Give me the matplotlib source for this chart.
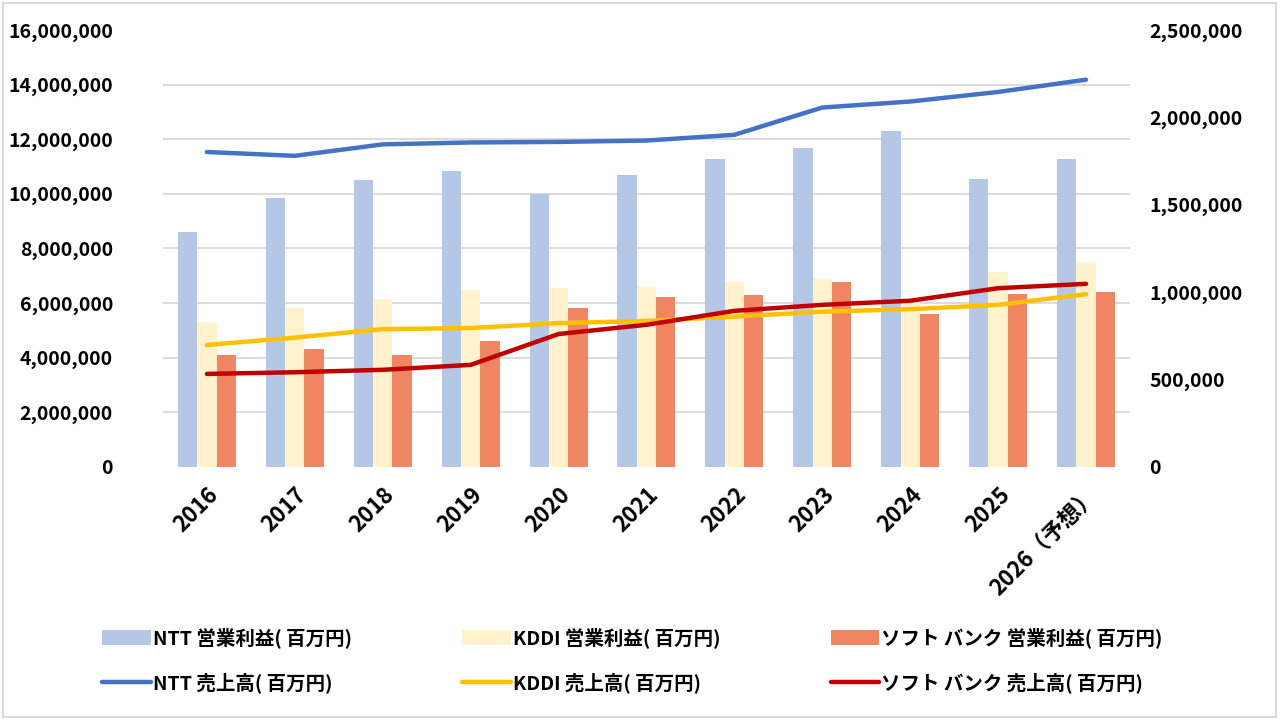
import matplotlib
matplotlib.use("Agg")
import matplotlib.pyplot as plt
import numpy as np
from matplotlib.ticker import FuncFormatter, MultipleLocator
from matplotlib.patches import Rectangle

plt.rcParams['font.family'] = ['Noto Sans CJK JP', 'DejaVu Sans']

# data (百万円)
years = ["2016", "2017", "2018", "2019", "2020", "2021", "2022", "2023", "2024", "2025", "2026（予想）"]

ntt_profit = [1346000, 1537000, 1640000, 1690000, 1562000, 1669000, 1764000, 1827000, 1919000, 1646000, 1764000]
kddi_profit = [830000, 907000, 960000, 1012000, 1025000, 1027000, 1058000, 1073000, 960000, 1117000, 1174000]
sb_profit = [640000, 676000, 638000, 718000, 911000, 970000, 985000, 1058000, 876000, 987000, 999000]

ntt_sales = [11530000, 11390000, 11810000, 11880000, 11900000, 11950000, 12160000, 13160000, 13380000, 13730000, 14180000]
kddi_sales = [4460000, 4730000, 5040000, 5080000, 5260000, 5340000, 5500000, 5680000, 5770000, 5930000, 6320000]
sb_sales = [3400000, 3460000, 3550000, 3730000, 4860000, 5200000, 5710000, 5930000, 6080000, 6540000, 6700000]

bar_labels = ["NTT 営業利益( 百万円)", "KDDI 営業利益( 百万円)", "ソフト バンク 営業利益( 百万円)"]
line_labels = ["NTT 売上高( 百万円)", "KDDI 売上高( 百万円)", "ソフト バンク 売上高( 百万円)"]

bar_colors = ["#b4c7e7", "#fff2cc", "#f08562"]
line_colors = ["#4472c4", "#ffc000", "#c00000"]

fig = plt.figure(figsize=(12.8, 7.25), dpi=100)
ax = fig.add_axes([0.1273, 0.3563, 0.7555, 0.6023])
ax2 = ax.twinx()

x = np.arange(len(years))
w = 0.22

# bars on right axis
bars = []
for i, (vals, c, lab) in enumerate(zip([ntt_profit, kddi_profit, sb_profit], bar_colors, bar_labels)):
    b = ax2.bar(x + (i - 1) * w, vals, width=w, color=c, label=lab, zorder=2)
    bars.append(b)

# lines on left axis
lines = []
for vals, c, lab in zip([ntt_sales, kddi_sales, sb_sales], line_colors, line_labels):
    l, = ax.plot(x, vals, color=c, lw=3.2, label=lab, solid_capstyle='round', zorder=3)
    lines.append(l)

ax.set_zorder(ax2.get_zorder() + 1)
ax.patch.set_visible(False)

ax.set_xlim(-0.5, len(years) - 0.5)
ax.set_ylim(0, 16000000)
ax2.set_ylim(0, 2500000)
ax.yaxis.set_major_locator(MultipleLocator(2000000))
ax2.yaxis.set_major_locator(MultipleLocator(500000))

# gridlines follow the left axis ticks, drawn behind the bars
ax2.yaxis.set_minor_locator(MultipleLocator(2500000 / 8))
ax2.grid(which='minor', axis='y', color='#d9d9d9', lw=1.3, zorder=0)
ax2.set_axisbelow(True)
ax2.tick_params(which='minor', length=0)

fmt = FuncFormatter(lambda v, p: f"{int(v):,}")
ax.yaxis.set_major_formatter(fmt)
ax2.yaxis.set_major_formatter(fmt)

for a in (ax, ax2):
    for s in a.spines.values():
        s.set_visible(False)

ax.tick_params(axis='y', length=0, pad=36, labelsize=14)
ax2.tick_params(axis='y', length=0, pad=14, labelsize=14)
for t in ax.get_yticklabels() + ax2.get_yticklabels():
    t.set_fontweight('bold')

ax.set_xticks(x)
ax.set_xticklabels(years, rotation=45, ha='right', rotation_mode='anchor',
                   fontsize=16, fontweight='bold')
ax.tick_params(axis='x', length=0, pad=12)

# legend fills column by column: bar, line per column
handles = [bars[0], lines[0], bars[1], lines[1], bars[2], lines[2]]
labels = [bar_labels[0], line_labels[0], bar_labels[1], line_labels[1], bar_labels[2], line_labels[2]]
leg = fig.legend(handles, labels, ncol=3, loc='lower left',
                 bbox_to_anchor=(0.066, 0.02, 0.856, 0.1), mode='expand',
                 frameon=False, fontsize=14, handlelength=2.5, handleheight=0.8,
                 handletextpad=0.1, labelspacing=1.25)
for t in leg.get_texts():
    t.set_fontweight('bold')

fig.add_artist(Rectangle((3 / 1280, 8 / 725), 1273 / 1280, 714 / 725,
                         transform=fig.transFigure, fill=False,
                         edgecolor='#d9d9d9', lw=1.5))

fig.savefig("out.png", dpi=100)
